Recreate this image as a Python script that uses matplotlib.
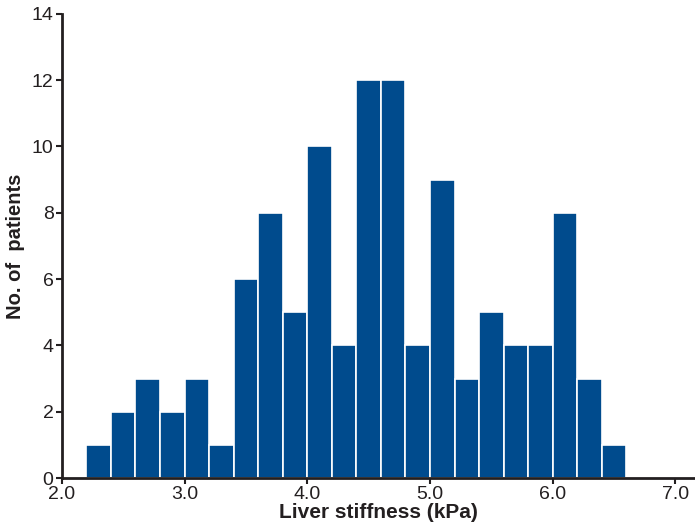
import matplotlib
matplotlib.use('Agg')
import matplotlib.pyplot as plt
import numpy as np

# Histogram of liver stiffness (bin width 0.2 kPa)
bin_left = [2.2, 2.4, 2.6, 2.8, 3.0, 3.2, 3.4, 3.6, 3.8, 4.0, 4.2,
            4.4, 4.6, 4.8, 5.0, 5.2, 5.4, 5.6, 5.8, 6.0, 6.2, 6.4]
counts = [1, 2, 3, 2, 3, 1, 6, 8, 5, 10, 4,
          12, 12, 4, 9, 3, 5, 4, 4, 8, 3, 1]
bin_width = 0.2

x_ticks = [2.0, 3.0, 4.0, 5.0, 6.0, 7.0]
y_ticks = [0, 2, 4, 6, 8, 10, 12, 14]

plt.rcParams['font.family'] = ['Liberation Sans', 'DejaVu Sans']

fig = plt.figure(figsize=(6.95, 5.3), dpi=100)
ax = fig.add_axes([0.089, 0.098, 0.911, 0.876])

ax.bar(bin_left, counts, width=bin_width, align='edge',
       color='#004b8d', edgecolor='white', linewidth=1.2)

ax.set_xlim(2.0, 7.16)
ax.set_ylim(0, 14)
ax.set_xticks(x_ticks)
ax.set_xticklabels([f'{t:.1f}' for t in x_ticks])
ax.set_yticks(y_ticks)

for side in ['top', 'right']:
    ax.spines[side].set_visible(False)
for side in ['left', 'bottom']:
    ax.spines[side].set_linewidth(2)
    ax.spines[side].set_color('#231f20')

ax.tick_params(axis='both', direction='out', length=4, width=1.5,
               colors='#231f20', labelsize=14, pad=2)

ax.set_xlabel('Liver stiffness (kPa)', fontweight='bold', fontsize=15,
              color='#231f20', labelpad=0)
ax.set_ylabel('No. of  patients', fontweight='bold', fontsize=14.5,
              color='#231f20', labelpad=5)

plt.savefig('out.png', dpi=100)
plt.close()
